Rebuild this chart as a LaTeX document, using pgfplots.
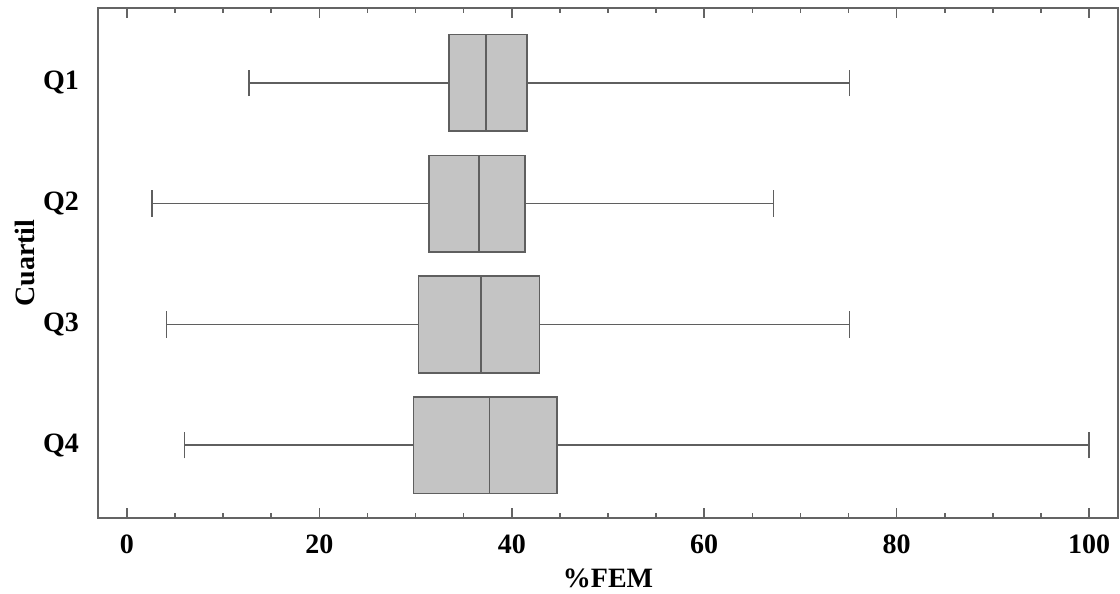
\documentclass[border=0pt]{standalone}
\usepackage{pgfplots}
\pgfplotsset{compat=1.18}
\usepgfplotslibrary{statistics}
\usepackage{fontspec}
\setmainfont{Liberation Serif}
\definecolor{boxfill}{RGB}{196,196,196}
\definecolor{boxline}{RGB}{95,95,95}
\definecolor{axline}{RGB}{100,100,100}
\begin{document}
\begin{tikzpicture}
\begin{axis}[name=ax, scale only axis, width=510pt, height=255pt,
 at={(0,0)}, anchor=south west,
 xmin=-3, xmax=103, ymin=0.397, ymax=4.62,
 xtick={0,20,...,100}, minor x tick num=3,
 ytick={1,2,3,4}, yticklabels={Q4,Q3,Q2,Q1},
 tick align=inside,
 major tick length=5pt, minor tick length=2.5pt,
 x tick style={axline, line width=0.8pt},
 y tick style={draw=none},
 axis line style={axline, line width=0.9pt},
 ticklabel style={font=\fontsize{14}{16}\selectfont\bfseries},
 xticklabel style={yshift=-5pt},
 yticklabel style={xshift=-6pt},
 /pgf/number format/assume math mode=true,
 xlabel={\%FEM}, ylabel={Cuartil},
 every axis x label/.style={at={(axis description cs:0.5,-0.1176)}, anchor=center, font=\fontsize{14}{16}\selectfont\bfseries},
 every axis y label/.style={at={(axis description cs:-0.0716,0.5)}, anchor=center, rotate=90, font=\fontsize{14}{16}\selectfont\bfseries},
 boxplot/draw direction=x,
 boxplot/box extend=0.8, boxplot/whisker extend=0.22,
 boxplot/every box/.style={fill=boxfill},
]
\addplot[draw=boxline, line width=0.8pt, boxplot prepared={lower whisker=12.7, lower quartile=33.5, median=37.3, upper quartile=41.6, upper whisker=75.1, draw position=4}] coordinates {};
\addplot[draw=boxline, line width=0.8pt, boxplot prepared={lower whisker=2.6, lower quartile=31.4, median=36.6, upper quartile=41.4, upper whisker=67.2, draw position=3}] coordinates {};
\addplot[draw=boxline, line width=0.8pt, boxplot prepared={lower whisker=4.1, lower quartile=30.3, median=36.8, upper quartile=42.9, upper whisker=75.1, draw position=2}] coordinates {};
\addplot[draw=boxline, line width=0.8pt, boxplot prepared={lower whisker=6.0, lower quartile=29.8, median=37.7, upper quartile=44.7, upper whisker=100.0, draw position=1}] coordinates {};
\end{axis}
\pgfresetboundingbox
\path[use as bounding box] (-49pt,-38pt) rectangle (511pt,259pt);
\end{tikzpicture}
\end{document}
